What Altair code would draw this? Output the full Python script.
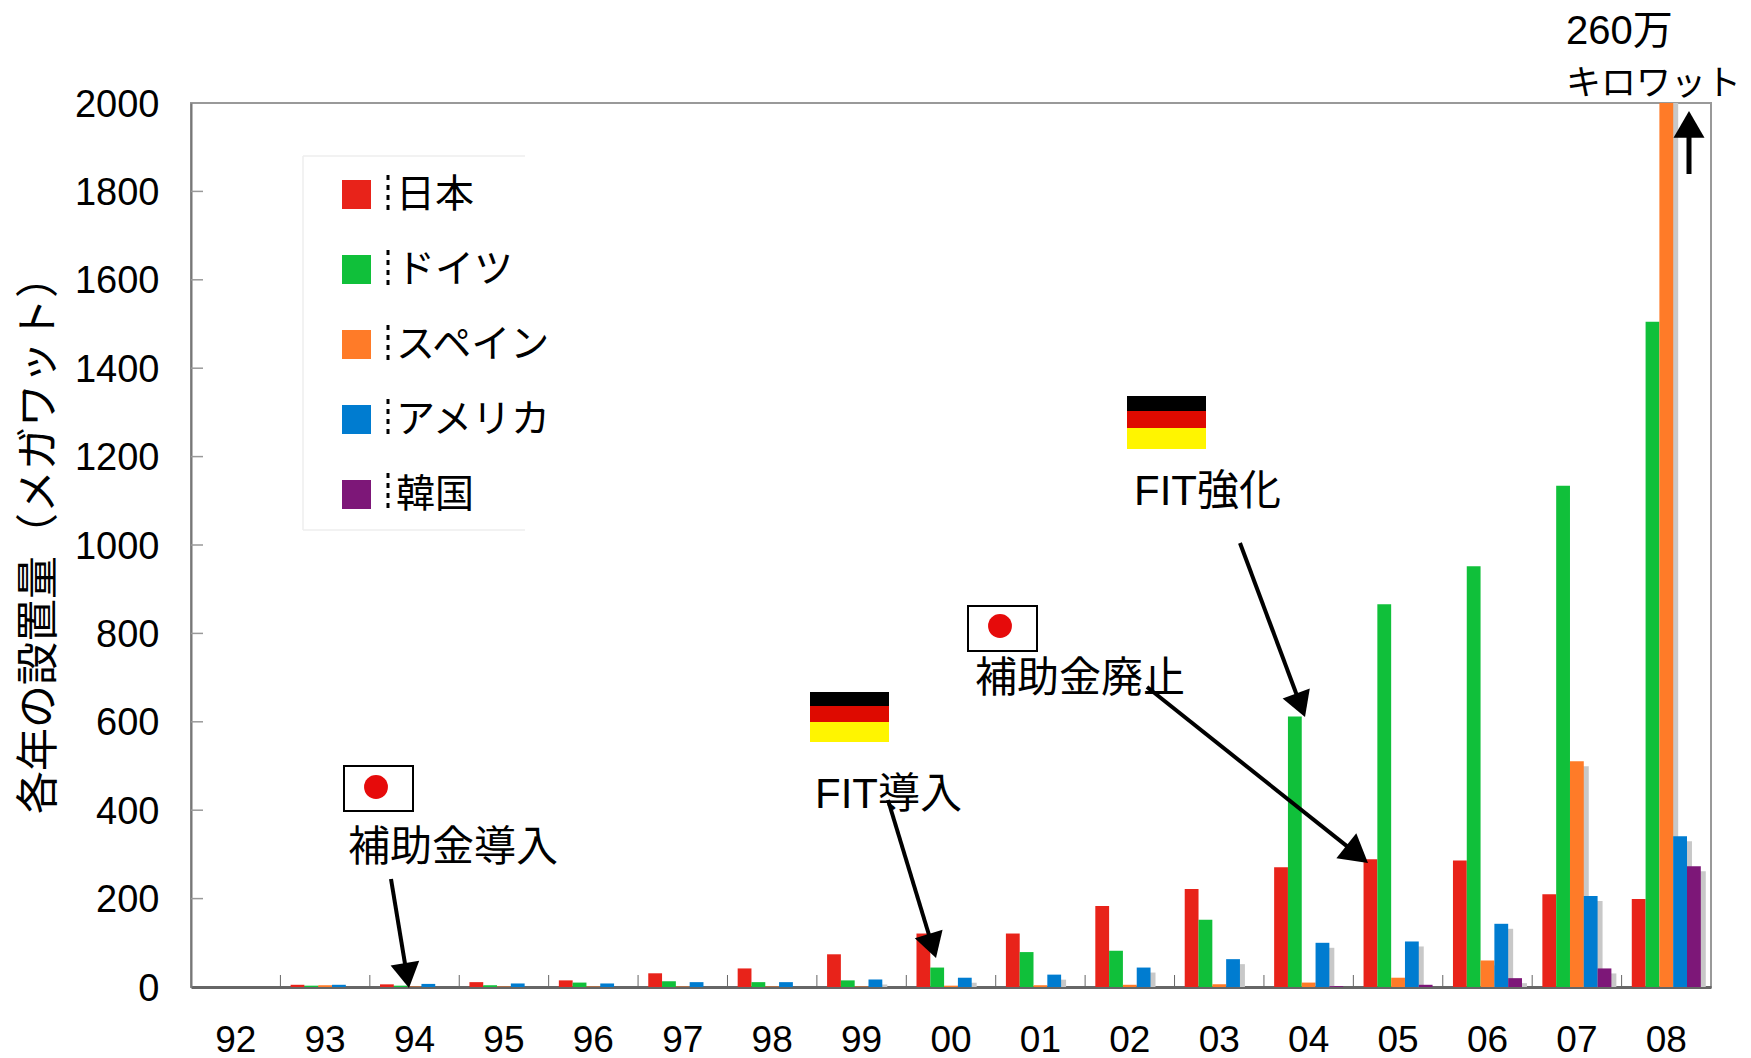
import math
import altair as alt
import pandas as pd

years = ["92","93","94","95","96","97","98","99","00","01","02","03","04","05","06","07","08"]
series = ["日本","ドイツ","スペイン","アメリカ","韓国"]
colors = ["#E8231A","#10C03A","#FF7B28","#007CD0","#7D1778"]
japan = [0,5,6,11,15,31,42,74,121,121,183,222,271,289,286,210,199]
germany = [0,3,3,4,10,13,11,15,44,79,82,152,612,866,952,1134,1505]
spain = [0,4,1,1,1,1,1,1,3,4,5,6,10,21,60,511,2600]
usa = [0,5,7,8,8,11,11,17,21,28,44,63,100,103,143,206,341]
korea = [0,0,0,0,0,0,0,0,0,0,0,0,2,5,20,42,273]
values = [japan, germany, spain, usa, korea]
y_ticks = [200,400,600,800,1000,1200,1400,1600,1800]
y_labels = [0] + y_ticks + [2000]

PLOT_L, PLOT_T = 191, 103
FONT = "Liberation Sans, Noto Sans CJK JP"

df = pd.DataFrame([
    {"year": y, "country": s, "mw": v[i]}
    for s, v in zip(series, values) for i, y in enumerate(years)
])

one = alt.Data(values=[{"a": 1}])
x_scale = alt.Scale(domain=years, paddingInner=0.228, paddingOuter=0.114)
off_scale = alt.Scale(domain=series)
y_scale = alt.Scale(domain=[0, 2000], nice=False)

x_enc = alt.X("year:N", scale=x_scale, sort=years, title=None,
              axis=alt.Axis(labelAngle=0, labelFontSize=37, labelFont=FONT, labelColor="#000",
                            labelPadding=35, ticks=False, domainColor="#666", domainWidth=3))
y_enc = alt.Y("mw:Q", scale=y_scale, title="各年の設置量（メガワット）",
              axis=alt.Axis(values=y_labels, format="d", grid=False, ticks=False, labelFontSize=38,
                            labelFont=FONT, labelColor="#000", labelPadding=32, labelOffset=2,
                            domainColor="#777", domainWidth=2,
                            titleFont=FONT, titleFontSize=43, titleFontWeight=400, titleColor="#000",
                            titleX=-130, titleY=431))

# shadow: same bars, shifted right through its own offset range and down through the mark's offset
shadow = alt.Chart(df[df.country.isin(["スペイン","アメリカ","韓国"])]).mark_bar(
    clip=True, yOffset=5, color="#C8C8C8"
).encode(x=x_enc, y=y_enc,
         xOffset=alt.XOffset("country:N", scale=alt.Scale(domain=series, range=[5, 74]), sort=series))

bars = alt.Chart(df).mark_bar(clip=True).encode(
    x=x_enc, y=y_enc,
    xOffset=alt.XOffset("country:N", scale=off_scale, sort=series),
    color=alt.Color("country:N", scale=alt.Scale(domain=series, range=colors), sort=series,
        legend=alt.Legend(orient="none", legendX=146, legendY=72, title=None, symbolType="square",
                          symbolSize=841, symbolStrokeWidth=0, labelFontSize=39, labelFont=FONT,
                          labelColor="#000", labelOffset=20, rowPadding=35, padding=0, labelLimit=300)),
)

def px(v, o):
    return alt.value(v - o)

x_ticks = alt.Chart(pd.DataFrame({"year": years[1:]})).mark_rule(xOffset=-44.7, color="#666", strokeWidth=1).encode(
    x=alt.X("year:N", scale=x_scale, sort=years, title=None), y=alt.value(872), y2=alt.value(884))
y_tick_marks = alt.Chart(pd.DataFrame({"mw": y_ticks})).mark_rule(color="#999", strokeWidth=1.5).encode(
    y=y_enc, x=alt.value(0), x2=alt.value(12))

def rect(x1, x2, y1, y2, fill, **kw):
    return alt.Chart(one).mark_rect(color=fill, **kw).encode(
        x=px(x1, PLOT_L), x2=px(x2, PLOT_L), y=px(y1, PLOT_T), y2=px(y2, PLOT_T))

def line(x1, y1, x2, y2, color="#000", width=4, **kw):
    return alt.Chart(one).mark_rule(color=color, strokeWidth=width, **kw).encode(
        x=px(x1, PLOT_L), x2=px(x2, PLOT_L), y=px(y1, PLOT_T), y2=px(y2, PLOT_T))

def arrow(x1, y1, x2, y2, side=27, width=4):
    d = math.hypot(x2 - x1, y2 - y1)
    ux, uy = (x2 - x1) / d, (y2 - y1) / d
    h = side * 0.866
    cx, cy = x2 - ux * h / 2, y2 - uy * h / 2
    ang = math.degrees(math.atan2(ux, -uy)) % 360
    head = alt.Chart(one).mark_point(shape="triangle-up", filled=True, opacity=1, color="#000",
                                     size=side * side, angle=ang).encode(
        x=px(cx, PLOT_L), y=px(cy, PLOT_T))
    return [line(x1, y1, x2 - ux * h * 0.8, y2 - uy * h * 0.8, width=width), head]

def label(txt, x, y, size=42):
    return alt.Chart(one).mark_text(text=txt, align="left", baseline="middle", font=FONT,
                                    fontSize=size, color="#000").encode(
        x=px(x, PLOT_L), y=px(y, PLOT_T))

def jp_flag(x1, x2, y1, y2, cx, cy):
    return [rect(x1, x2, y1, y2, "#FFFFFF", stroke="#000", strokeWidth=2),
            alt.Chart(one).mark_point(shape="circle", filled=True, opacity=1, color="#E60B0B", size=570).encode(
                x=px(cx, PLOT_L), y=px(cy, PLOT_T))]

def de_flag(x1, x2, y1, y2, y3, y4):
    return [rect(x1, x2, y1, y2, "#000000"), rect(x1, x2, y2, y3, "#DE0A00"), rect(x1, x2, y3, y4, "#FFF500")]

deco = []
deco += [line(303, 156, 525, 156, color="#EEEEEE", width=1.5),
         line(303, 530, 525, 530, color="#EEEEEE", width=1.5),
         line(303, 156, 303, 530, color="#EEEEEE", width=1.5)]
for cy in [194, 269, 344, 418, 492]:
    deco.append(line(388, cy - 19, 388, cy + 19, width=3, strokeDash=[5, 5]))
deco += jp_flag(344, 413, 766, 811, 376, 787)
deco += jp_flag(968, 1037, 606, 651, 1000, 626)
deco += de_flag(810, 889, 692, 706, 722, 742)
deco += de_flag(1127, 1206, 396, 411, 428, 449)
deco += arrow(391, 879, 409, 988, side=29)
deco += arrow(888, 800, 936, 958, side=29)
deco += arrow(1147, 687, 1368, 863, side=32)
deco += arrow(1240, 543, 1305, 717, side=29)
deco += arrow(1689, 174, 1689, 111, side=31, width=5)
deco += [label("補助金導入", 348, 848), label("FIT導入", 815, 795), label("補助金廃止", 975, 679),
         label("FIT強化", 1134, 492), label("260万", 1566, 32, 40), label("キロワット", 1566, 84, 35)]

chart = alt.layer(shadow, bars, x_ticks, y_tick_marks, *deco).resolve_scale(xOffset="independent").properties(
    width=1520, height=884,
    padding={"left": 183, "top": 95, "right": 32, "bottom": 71},
    autosize=alt.AutoSizeParams(type="none"),
).configure_view(stroke="#999", strokeWidth=2)

chart.save("out.html", embed_options={"renderer": "svg", "actions": False})
